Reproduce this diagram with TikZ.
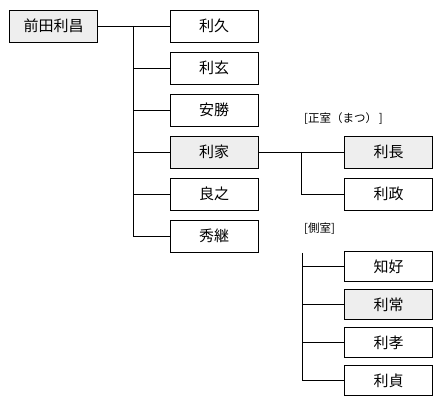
\documentclass[tikz,border=0pt]{standalone}
\usepackage{fontspec}
\newfontfamily\jp{Noto Sans CJK JP}
\definecolor{boxfill}{RGB}{238,238,238}
\tikzset{
  box/.style={draw=black, line width=0.8pt, minimum width=88pt, minimum height=32pt, inner sep=0pt, font=\jp\fontsize{15}{17}\selectfont},
  sbox/.style={box, minimum height=29.5pt},
  hl/.style={fill=boxfill},
  conn/.style={line width=0.8pt, black},
  lbl/.style={anchor=west, inner sep=0pt, font=\jp\fontsize{11.5}{13}\selectfont}
}
\begin{document}
\begin{tikzpicture}[x=1pt,y=-1pt]
\useasboundingbox (0,0) rectangle (447,403);
\fill[white] (0,0) rectangle (447,403);
% root
\node[box,hl] (root) at (53.5,26) {前田利昌};
% children
\node[box] (c1) at (214,26) {利久};
\node[box] (c2) at (214,68) {利玄};
\node[box] (c3) at (214,110) {安勝};
\node[box,hl] (c4) at (214,152) {利家};
\node[box] (c5) at (214,194) {良之};
\node[box] (c6) at (214,236) {秀継};
% grandchildren (正室)
\node[box,hl] (g1) at (388.5,152) {利長};
\node[box] (g2) at (388.5,194) {利政};
% grandchildren (側室)
\node[sbox] (s1) at (388.5,266.5) {知好};
\node[sbox,hl] (s2) at (388.5,304.5) {利常};
\node[sbox] (s3) at (388.5,342.5) {利孝};
\node[sbox] (s4) at (388.5,380.5) {利貞};
% labels
\node[lbl] (l1) at (304,119) {[正室（まつ）\,]};
\node[lbl] (l2) at (304,229) {[側室]};
% trunk
\coordinate (t1) at (133,26);
\coordinate (t2) at (133,236);
\draw[conn] (root.east) -- (c1.west);
\draw[conn] (t1) -- (t2);
\foreach \n in {c2,c3,c4,c5,c6} \draw[conn] (\n.west) -- (\n.west -| t1);
% 利家 branch
\coordinate (u1) at (301,152);
\coordinate (u2) at (301,194);
\draw[conn] (c4.east) -- (g1.west);
\draw[conn] (u1) -- (u2) -- (g2.west);
% 側室 branch
\coordinate (v1) at (302,253);
\coordinate (v2) at (302,380.5);
\draw[conn] (v1) -- (v2) -- (s4.west);
\foreach \n in {s1,s2,s3} \draw[conn] (\n.west) -- (\n.west -| v1);
\end{tikzpicture}
\end{document}
